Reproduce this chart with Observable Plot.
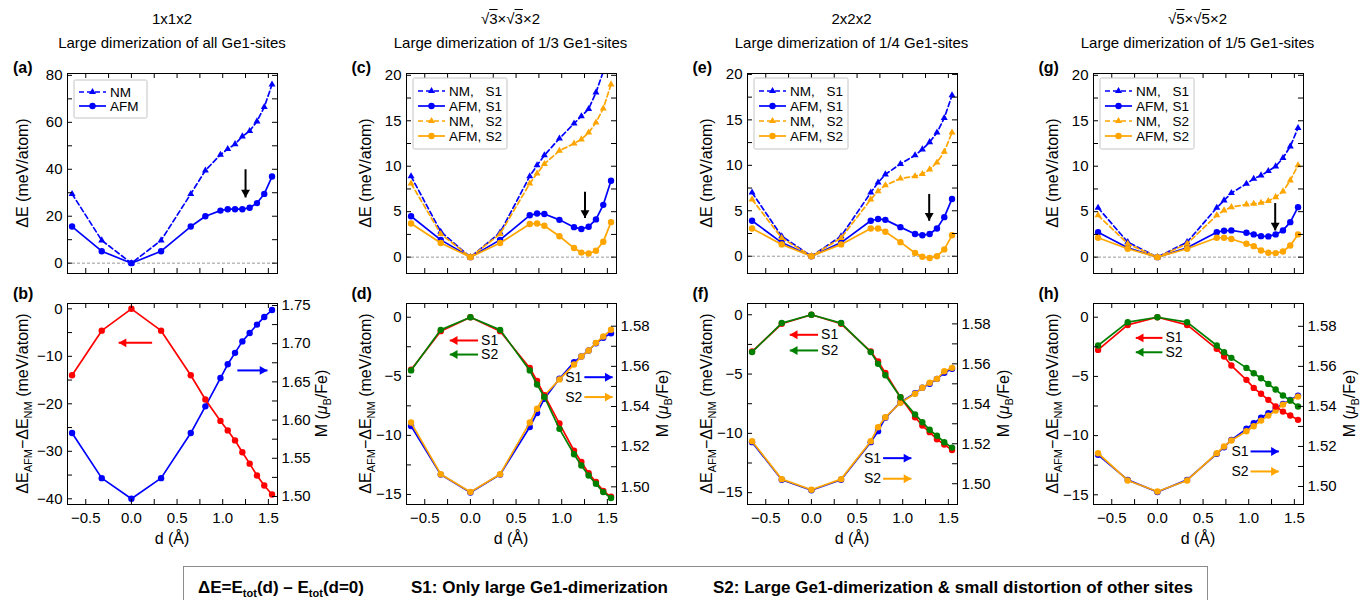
<!DOCTYPE html>
<html>
<head>
<meta charset="utf-8">
<script src="https://cdn.jsdelivr.net/npm/d3@7"></script>
<script src="https://cdn.jsdelivr.net/npm/@observablehq/plot@0.6"></script>
<style>
  html, body { margin: 0; padding: 0; background: #fff; }
  #page { position: relative; width: 1370px; height: 600px; overflow: hidden;
          font-family: "Liberation Sans", Arial, Helvetica, sans-serif; color: #000; }
  .ttl { position: absolute; width: 340px; text-align: center; font-size: 15px; line-height: 17px; white-space: nowrap; }
  .plab { position: absolute; font-size: 16px; font-weight: bold; line-height: 16px; }
  .ov { text-decoration: overline; }
  #caption { position: absolute; left: 183px; top: 566px; width: 1025px; height: 60px;
             border: 1px solid #8c8c8c; box-sizing: border-box; }
  #caption span { position: absolute; top: 11px; font-size: 17px; font-weight: bold; white-space: nowrap; }
  #caption sub { font-size: 11px; }
</style>
</head>
<body>
<div id="page"></div>
<script>
// ---------- shared displacement axis ----------
const xDomain = [-0.7, 1.6];
const xTickLabels = [-0.5, 0, 0.5, 1, 1.5];
const xTicks = [-0.5, -0.25, 0, 0.25, 0.5, 0.75, 1, 1.25, 1.5];

// Ge1 displacement d (Å) sampled in each supercell
const dAB = [-0.65, -0.325, 0, 0.325, 0.65, 0.81, 0.975, 1.055, 1.135, 1.215, 1.295, 1.375, 1.455, 1.54];
const dCF = [-0.65, -0.325, 0, 0.325, 0.65, 0.73, 0.81, 0.975, 1.135, 1.215, 1.295, 1.375, 1.455, 1.54];
const dGH = [-0.65, -0.325, 0, 0.325, 0.65, 0.73, 0.81, 0.975, 1.055, 1.135, 1.215, 1.295, 1.375, 1.455, 1.54];

// (a) 1x1x2 : ΔE (meV/atom)
const nmA  = [29.5, 9.7, 0, 9.7, 29.5, 39.5, 46.2, 48.6, 50.7, 54.0, 56.3, 60.4, 66.5, 76.1];
const afmA = [15.6, 5.1, 0, 5.1, 15.6, 20.0, 22.4, 23.0, 23.0, 23.0, 23.6, 25.6, 29.5, 36.9];
// (b) ΔE_AFM − ΔE_NM and Fe moment
const diffB = [-14.0, -4.6, 0, -4.6, -14.0, -19.1, -23.6, -25.6, -27.7, -30.2, -32.6, -35.1, -37.2, -39.1];
const magB  = [1.583, 1.524, 1.497, 1.524, 1.583, 1.618, 1.655, 1.673, 1.688, 1.703, 1.714, 1.725, 1.735, 1.744];

// (c) √3×√3×2
const nmS1C  = [8.9, 2.8, 0, 2.7, 8.9, 10.1, 11.2, 13.05, 14.7, 15.5, 16.3, 18.1, 20.4, 23.5];
const afmS1C = [4.5, 1.9, 0, 1.9, 4.6, 4.8, 4.75, 4.1, 3.3, 3.1, 3.35, 4.15, 5.75, 8.4];
const nmS2C  = [8.1, 2.55, 0, 2.55, 8.1, 9.2, 10.25, 11.7, 12.5, 12.95, 13.7, 14.8, 16.35, 19.0];
const afmS2C = [3.7, 1.55, 0, 1.55, 3.65, 3.7, 3.45, 2.3, 1.0, 0.5, 0.4, 0.7, 1.7, 3.85];
// (d)
const diffS1D = [-4.45, -1.18, 0, -1.18, -4.3, -5.4, -6.6, -9.0, -11.3, -12.25, -13.2, -13.95, -14.7, -15.2];
const diffS2D = [-4.5, -1.07, 0, -1.07, -4.5, -5.7, -6.75, -9.45, -11.6, -12.55, -13.4, -14.1, -14.8, -15.3];
const magS1D  = [1.5303, 1.5061, 1.4972, 1.5061, 1.5298, 1.5368, 1.5439, 1.5538, 1.5621, 1.5649, 1.5679, 1.5715, 1.5742, 1.5765];
const magS2D  = [1.5320, 1.5063, 1.4974, 1.5063, 1.5320, 1.5389, 1.5455, 1.5535, 1.5609, 1.5649, 1.5679, 1.5717, 1.5749, 1.5782];

// (e) 2x2x2
const nmS1E  = [7.0, 2.2, 0, 2.2, 7.0, 8.1, 9.0, 10.15, 11.1, 11.75, 12.55, 13.6, 15.2, 17.7];
const afmS1E = [3.9, 1.5, 0, 1.5, 3.9, 4.1, 4.0, 3.2, 2.45, 2.3, 2.45, 3.05, 4.3, 6.3];
const nmS2E  = [6.25, 2.0, 0, 2.0, 6.25, 7.15, 7.8, 8.55, 8.8, 9.05, 9.55, 10.3, 11.5, 13.6];
const afmS2E = [3.05, 1.3, 0, 1.3, 3.05, 3.05, 2.7, 1.55, 0.35, -0.05, -0.2, 0.0, 0.75, 2.3];
// (f)
const diffS1F = [-3.1, -0.76, 0, -0.76, -3.1, -3.94, -4.9, -6.95, -8.64, -9.34, -9.9, -10.5, -10.95, -11.4];
const diffS2F = [-3.15, -0.7, 0, -0.7, -3.15, -4.14, -5.1, -6.95, -8.4, -9.06, -9.7, -10.2, -10.75, -11.2];
const magS1F  = [1.5208, 1.502, 1.4967, 1.502, 1.5208, 1.5263, 1.533, 1.5408, 1.5453, 1.548, 1.55, 1.5525, 1.5555, 1.5575];
const magS2F  = [1.5213, 1.5023, 1.497, 1.5023, 1.5213, 1.5283, 1.5333, 1.5405, 1.545, 1.548, 1.5505, 1.5525, 1.5563, 1.558];

// (g) √5×√5×2
const nmS1G  = [5.43, 1.65, 0, 1.65, 5.43, 6.24, 7.05, 8.07, 8.62, 8.99, 9.47, 9.98, 10.9, 12.18, 14.2];
const afmS1G = [2.75, 1.03, 0, 1.03, 2.75, 2.9, 2.94, 2.68, 2.5, 2.31, 2.28, 2.5, 2.94, 3.85, 5.5];
const nmS2G  = [4.6, 1.47, 0, 1.47, 4.6, 5.14, 5.5, 5.8, 5.87, 5.98, 6.17, 6.6, 7.23, 8.44, 10.1];
const afmS2G = [2.13, 0.92, 0, 0.92, 2.13, 2.13, 2.0, 1.47, 1.21, 0.73, 0.48, 0.44, 0.62, 1.28, 2.5];
// (h)
const diffS1H = [-2.76, -0.65, 0, -0.65, -2.67, -3.32, -4.08, -5.29, -5.97, -6.47, -6.98, -7.54, -7.97, -8.3, -8.67];
const diffS2H = [-2.39, -0.42, 0, -0.42, -2.39, -2.96, -3.43, -4.28, -4.73, -5.15, -5.63, -6.11, -6.61, -7.04, -7.54];
const magS1H  = [1.5158, 1.5033, 1.4972, 1.5033, 1.5163, 1.5196, 1.5233, 1.5288, 1.5316, 1.5343, 1.5366, 1.5387, 1.5412, 1.5432, 1.5454];
const magS2H  = [1.5166, 1.503, 1.4975, 1.503, 1.5166, 1.52, 1.523, 1.5276, 1.5301, 1.5329, 1.5354, 1.5379, 1.5409, 1.5429, 1.5449];

// black arrows pointing at the AFM minimum (top row): d, start ΔE, end ΔE
const minArrowD    = [1.25, 1.255, 1.29, 1.29];
const minArrowFrom = [40, 7.2, 6.85, 5.95];
const minArrowTo   = [28, 4.3, 3.9, 2.94];

// axis-indicating arrows (bottom row): tail d, tip d, value, label
const leftArrowTail  = [0.227, 0.084, 0.073, 0.055];
const leftArrowTip   = [-0.14, -0.226, -0.237, -0.237];
const leftArrowS1    = [-7.16, -1.97, -1.69, -1.745];
const leftArrowS2    = [null, -3.16, -3.01, -2.96];
const rightArrowTail = [1.16, 1.248, 0.785, 1.02];
const rightArrowTip  = [1.49, 1.558, 1.095, 1.33];
const rightArrowS1   = [1.665, 1.5546, 1.5128, 1.5175];
const rightArrowS2   = [null, 1.5447, 1.5025, 1.5075];

// tick arrays
const yTicksA = [0, 10, 20, 30, 40, 50, 60, 70, 80];
const yLabelsA = [0, 20, 40, 60, 80];
const yTicksC = [0, 2.5, 5, 7.5, 10, 12.5, 15, 17.5, 20];
const yLabelsC = [0, 5, 10, 15, 20];
const leftTicksB = [0, -5, -10, -15, -20, -25, -30, -35, -40];
const leftLabelsB = [0, -10, -20, -30, -40];
const rightTicksB = [1.5, 1.525, 1.55, 1.575, 1.6, 1.625, 1.65, 1.675, 1.7, 1.725, 1.75];
const rightLabelsB = [1.5, 1.55, 1.6, 1.65, 1.7, 1.75];
const leftTicksD = [0, -2.5, -5, -7.5, -10, -12.5, -15];
const leftLabelsD = [0, -5, -10, -15];
const rightTicksD = [1.5, 1.51, 1.52, 1.53, 1.54, 1.55, 1.56, 1.57, 1.58];
const rightLabelsD = [1.5, 1.52, 1.54, 1.56, 1.58];

// headings
const cellNames = ["1x1x2", "√<span class='ov'>3</span>×√<span class='ov'>3</span>×2", "2x2x2", "√<span class='ov'>5</span>×√<span class='ov'>5</span>×2"];
const cellSubtitles = ["Large dimerization of all Ge1-sites", "Large dimerization of 1/3 Ge1-sites",
                       "Large dimerization of 1/4 Ge1-sites", "Large dimerization of 1/5 Ge1-sites"];
const panelLetters = [["(a)", "(b)"], ["(c)", "(d)"], ["(e)", "(f)"], ["(g)", "(h)"]];

const BLUE = "#0000ff", ORANGE = "#ffa500", RED = "#ff0000", GREEN = "#008000";

// ---------- layout ----------
const COL_LEFT = [67, 405.5, 746.5, 1092.5];
const TOP_Y = 73, BOT_Y = 303;
const FW = 210, FH_TOP = 200, FH_BOT = 201;
const ML = 64, MR = 64, MT = 12, MB_TOP = 12, MB_BOT = 52;
const TICK = 5;
const LEG_FONT = 13.5;
const FONT = "'Liberation Sans', Arial, Helvetica, sans-serif";
const plotStyle = {fontFamily: FONT, fontSize: "15px", background: "none", overflow: "visible", color: "#000"};
const tri = Math.sqrt(Math.PI / (3 * Math.sqrt(3)));   // triangle tip distance per unit r
const HEAD_R = 3.3;

const page = document.getElementById("page");
function place(node, x, y) {
  node.style.position = "absolute";
  node.style.left = x + "px";
  node.style.top = y + "px";
  page.appendChild(node);
}

function inwardTicks(xs, yl, yr, fh) {
  return [
    Plot.tickX(xs, {x: d => d, insetTop: fh - TICK, stroke: "#000"}),
    Plot.tickX(xs, {x: d => d, insetBottom: fh - TICK, stroke: "#000"}),
    Plot.tickY(yl, {y: d => d, insetRight: FW - TICK, stroke: "#000"}),
    Plot.tickY(yr, {y: d => d, insetLeft: FW - TICK, stroke: "#000"})
  ];
}

function seriesMarks(xs, ys, color, dashed, symbol) {
  const rows = xs.map((d, i) => ({d, v: ys[i]}));
  const opts = {x: "d", y: "v", stroke: color, strokeWidth: 1.7, clip: true};
  if (dashed) opts.strokeDasharray = "5,3";
  return [
    Plot.line(rows, opts),
    Plot.dot(rows, {x: "d", y: "v", fill: color, r: symbol === "triangle" ? 2.6 : 3.2, symbol, clip: true})
  ];
}

function rotatedTitle(parts, side, offset) {
  return (index, scales, values, dims) => {
    const cx = side === "left" ? dims.marginLeft - offset : dims.width - dims.marginRight + offset;
    const cy = dims.marginTop + (dims.height - dims.marginTop - dims.marginBottom) / 2;
    const t = d3.create("svg:text")
      .attr("transform", `translate(${cx},${cy}) rotate(-90)`)
      .attr("text-anchor", "middle").attr("dy", "0.35em")
      .attr("font-size", 16).attr("fill", "#000");
    let shifted = false;
    for (const p of parts) {
      const s = t.append("tspan");
      if (typeof p === "string") {
        s.text(p);
        if (shifted) { s.attr("dy", -4); shifted = false; }
      } else if (p.sub) {
        s.text(p.sub).attr("font-size", 11).attr("dy", 4); shifted = true;
      } else if (p.it) {
        s.text(p.it).attr("font-style", "italic");
        if (shifted) { s.attr("dy", -4); shifted = false; }
      }
    }
    return t.node();
  };
}

function xTitle() {
  return (index, scales, values, dims) =>
    d3.create("svg:text")
      .attr("x", dims.marginLeft + (dims.width - dims.marginLeft - dims.marginRight) / 2)
      .attr("y", dims.height - dims.marginBottom + 40)
      .attr("text-anchor", "middle").attr("font-size", 16).attr("fill", "#000")
      .text("d (Å)").node();
}

function legendMark(entries, w, h, top, gap, tagX) {
  return (index, scales, values, dims) => {
    const g = d3.create("svg:g").attr("transform", `translate(${dims.marginLeft + 7},${dims.marginTop + top})`)
      .attr("text-anchor", "start");
    g.append("rect").attr("width", w).attr("height", h).attr("fill", "#fff")
      .attr("stroke", "#c4c4c4").attr("stroke-width", 1).attr("rx", 1.5);
    const y0 = (h - gap * (entries.length - 1)) / 2;
    entries.forEach((e, j) => {
      const y = y0 + j * gap;
      const ln = g.append("line").attr("x1", 5).attr("x2", 32).attr("y1", y).attr("y2", y)
        .attr("stroke", e.color).attr("stroke-width", 1.7);
      if (e.dashed) ln.attr("stroke-dasharray", "5,3");
      const r = e.symbol === "triangle" ? 2.6 : 3.2;
      g.append("path").attr("transform", `translate(18.5,${y})`)
        .attr("d", d3.symbol(e.symbol === "triangle" ? d3.symbolTriangle : d3.symbolCircle, r * r * Math.PI)())
        .attr("fill", e.color);
      g.append("text").attr("x", 36).attr("y", y).attr("dy", "0.35em").attr("font-size", LEG_FONT)
        .attr("text-anchor", "start").text(e.label);
      if (e.tag) g.append("text").attr("x", tagX).attr("y", y).attr("dy", "0.35em").attr("font-size", LEG_FONT)
        .attr("text-anchor", "start").text(e.tag);
    });
    return g.node();
  };
}

function downArrow(col) {
  const rows = [{d: minArrowD[col], y1: minArrowFrom[col], y2: minArrowTo[col]}];
  return [
    Plot.link(rows, {x1: "d", x2: "d", y1: "y1", y2: "y2", stroke: "#000", strokeWidth: 2}),
    Plot.dot(rows, {x: "d", y: "y2", symbol: "triangle", rotate: 180, r: HEAD_R, fill: "#000", dy: -2 * tri * HEAD_R})
  ];
}

function hArrow(x1, x2, y, color, label) {
  const rows = [{x1, x2, y, label}];
  const left = x2 < x1;
  const marks = [
    Plot.link(rows, {x1: "x1", x2: "x2", y1: "y", y2: "y", stroke: color, strokeWidth: 2}),
    Plot.dot(rows, {x: "x2", y: "y", symbol: "triangle", rotate: left ? -90 : 90, r: HEAD_R, fill: color,
                    dx: (left ? 1 : -1) * 2 * tri * HEAD_R})
  ];
  if (label) marks.push(Plot.text(rows, {x: "x1", y: "y", text: "label", fill: "#000", fontSize: 14,
                                         textAnchor: left ? "start" : "end", dx: left ? 3 : -2}));
  return marks;
}

function topPanel(p) {
  return Plot.plot({
    width: ML + FW + MR, height: MT + FH_TOP + MB_TOP,
    marginLeft: ML, marginRight: MR, marginTop: MT, marginBottom: MB_TOP,
    style: plotStyle,
    x: {domain: xDomain, axis: null},
    y: {domain: p.yDomain, axis: null},
    marks: [
      Plot.ruleY([0], {stroke: "#9a9a9a", strokeDasharray: "3,2", strokeWidth: 1}),
      ...p.series.flatMap(s => seriesMarks(s.xs, s.ys, s.color, s.dashed, s.symbol)),
      ...downArrow(p.col),
      ...inwardTicks(xTicks, p.yTicks, p.yTicks, FH_TOP),
      Plot.axisY(p.yLabels, {tickSize: 0, tickPadding: 5, label: null, tickFormat: d3.format("d")}),
      Plot.frame({stroke: "#000", strokeWidth: 1}),
      p.legend,
      rotatedTitle(["ΔE (meV/atom)"], "left", p.titleOffset)
    ]
  });
}

function bottomPanel(p) {
  const L = p.leftDomain, R = p.rightDomain;
  const k = (L[1] - L[0]) / (R[1] - R[0]);
  const toLeft = m => L[0] + (m - R[0]) * k;
  const fromLeft = v => R[0] + (v - L[0]) / k;
  const fmtR = d3.format(".2f");
  const c = p.col;
  const marks = [
    ...p.mag.flatMap(s => seriesMarks(s.xs, s.ys.map(toLeft), s.color, false, "circle")),
    ...p.diff.flatMap(s => seriesMarks(s.xs, s.ys, s.color, false, "circle")),
    ...hArrow(leftArrowTail[c], leftArrowTip[c], leftArrowS1[c], RED, c ? "S1" : null),
    ...hArrow(rightArrowTail[c], rightArrowTip[c], toLeft(rightArrowS1[c]), BLUE, c ? "S1" : null)
  ];
  if (leftArrowS2[c] != null) marks.push(...hArrow(leftArrowTail[c], leftArrowTip[c], leftArrowS2[c], GREEN, "S2"));
  if (rightArrowS2[c] != null) marks.push(...hArrow(rightArrowTail[c], rightArrowTip[c], toLeft(rightArrowS2[c]), ORANGE, "S2"));
  marks.push(
    ...inwardTicks(xTicks, p.leftTicks, p.rightTicks.map(toLeft), FH_BOT),
    Plot.axisX(xTickLabels, {tickSize: 0, tickPadding: 8, label: null, tickFormat: d3.format(".1f")}),
    Plot.axisY(p.leftLabels, {tickSize: 0, tickPadding: 5, label: null, tickFormat: d3.format("d")}),
    Plot.axisY(p.rightLabels.map(toLeft), {anchor: "right", tickSize: 0, tickPadding: 4, label: null,
                                          tickFormat: v => fmtR(fromLeft(v))}),
    Plot.frame({stroke: "#000", strokeWidth: 1}),
    rotatedTitle(["ΔE", {sub: "AFM"}, "−ΔE", {sub: "NM"}, " (meV/atom)"], "left", p.titleOffset),
    rotatedTitle(["M (", {it: "μ"}, {sub: "B"}, "/Fe)"], "right", p.rightOffset),
    xTitle()
  );
  return Plot.plot({
    width: ML + FW + MR, height: MT + FH_BOT + MB_BOT,
    marginLeft: ML, marginRight: MR, marginTop: MT, marginBottom: MB_BOT,
    style: plotStyle,
    x: {domain: xDomain, axis: null},
    y: {domain: L, axis: null},
    marks
  });
}

const legend2 = legendMark([
  {label: "NM", color: BLUE, dashed: true, symbol: "triangle"},
  {label: "AFM", color: BLUE, dashed: false, symbol: "circle"}
], 73, 38, 7, 14, 0);
const legend4 = () => legendMark([
  {label: "NM,", tag: "S1", color: BLUE, dashed: true, symbol: "triangle"},
  {label: "AFM,", tag: "S1", color: BLUE, dashed: false, symbol: "circle"},
  {label: "NM,", tag: "S2", color: ORANGE, dashed: true, symbol: "triangle"},
  {label: "AFM,", tag: "S2", color: ORANGE, dashed: false, symbol: "circle"}
], 94, 71, 5, 15, 72.5);

const fourSeries = (xs, nm1, afm1, nm2, afm2) => [
  {xs, ys: nm1, color: BLUE, dashed: true, symbol: "triangle"},
  {xs, ys: afm1, color: BLUE, dashed: false, symbol: "circle"},
  {xs, ys: nm2, color: ORANGE, dashed: true, symbol: "triangle"},
  {xs, ys: afm2, color: ORANGE, dashed: false, symbol: "circle"}
];

const tops = [
  topPanel({col: 0, yDomain: [-4.4, 80.8], yTicks: yTicksA, yLabels: yLabelsA, legend: legend2, titleOffset: 44.5,
            series: [{xs: dAB, ys: nmA, color: BLUE, dashed: true, symbol: "triangle"},
                     {xs: dAB, ys: afmA, color: BLUE, dashed: false, symbol: "circle"}]}),
  topPanel({col: 1, yDomain: [-1.8, 20.2], yTicks: yTicksC, yLabels: yLabelsC, legend: legend4(), titleOffset: 40.5,
            series: fourSeries(dCF, nmS1C, afmS1C, nmS2C, afmS2C)}),
  topPanel({col: 2, yDomain: [-1.9, 20.1], yTicks: yTicksC, yLabels: yLabelsC, legend: legend4(), titleOffset: 40.5,
            series: fourSeries(dCF, nmS1E, afmS1E, nmS2E, afmS2E)}),
  topPanel({col: 3, yDomain: [-1.8, 20.2], yTicks: yTicksC, yLabels: yLabelsC, legend: legend4(), titleOffset: 40.5,
            series: fourSeries(dGH, nmS1G, afmS1G, nmS2G, afmS2G)})
];

const pair = (xs, a, b, ca, cb) => [{xs, ys: a, color: ca}, {xs, ys: b, color: cb}];
const bottoms = [
  bottomPanel({col: 0, leftDomain: [-41.2, 1.12], rightDomain: [1.4895, 1.7526],
               leftTicks: leftTicksB, leftLabels: leftLabelsB, rightTicks: rightTicksB, rightLabels: rightLabelsB,
               titleOffset: 44.5, rightOffset: 44,
               mag: [{xs: dAB, ys: magB, color: BLUE}], diff: [{xs: dAB, ys: diffB, color: RED}]}),
  bottomPanel({col: 1, leftDomain: [-15.85, 1.16], rightDomain: [1.4912, 1.5913],
               leftTicks: leftTicksD, leftLabels: leftLabelsD, rightTicks: rightTicksD, rightLabels: rightLabelsD,
               titleOffset: 40.5, rightOffset: 46.5,
               mag: pair(dCF, magS1D, magS2D, BLUE, ORANGE), diff: pair(dCF, diffS1D, diffS2D, RED, GREEN)}),
  bottomPanel({col: 2, leftDomain: [-16.0, 0.95], rightDomain: [1.4896, 1.5902],
               leftTicks: leftTicksD, leftLabels: leftLabelsD, rightTicks: rightTicksD, rightLabels: rightLabelsD,
               titleOffset: 40.5, rightOffset: 46.5,
               mag: pair(dCF, magS1F, magS2F, BLUE, ORANGE), diff: pair(dCF, diffS1F, diffS2F, RED, GREEN)}),
  bottomPanel({col: 3, leftDomain: [-15.82, 1.16], rightDomain: [1.491, 1.5914],
               leftTicks: leftTicksD, leftLabels: leftLabelsD, rightTicks: rightTicksD, rightLabels: rightLabelsD,
               titleOffset: 40.5, rightOffset: 46.5,
               mag: pair(dGH, magS1H, magS2H, BLUE, ORANGE), diff: pair(dGH, diffS1H, diffS2H, RED, GREEN)})
];

COL_LEFT.forEach((x0, i) => {
  place(tops[i], x0 - ML, TOP_Y - MT);
  place(bottoms[i], x0 - ML, BOT_Y - MT);
  const cx = x0 + FW / 2;
  const t1 = document.createElement("div");
  t1.className = "ttl"; t1.innerHTML = cellNames[i];
  place(t1, cx - 170, 9.5);
  const t2 = document.createElement("div");
  t2.className = "ttl"; t2.textContent = cellSubtitles[i];
  place(t2, cx - 170, 33.5);
  const la = document.createElement("div");
  la.className = "plab"; la.textContent = panelLetters[i][0];
  place(la, x0 - 54, 60);
  const lb = document.createElement("div");
  lb.className = "plab"; lb.textContent = panelLetters[i][1];
  place(lb, x0 - 54, 285.5);
});

// definitions box under the panels
const cap = document.createElement("div");
cap.id = "caption";
cap.innerHTML =
  "<span style='left:14px'>ΔE=E<sub>tot</sub>(d) – E<sub>tot</sub>(d=0)</span>" +
  "<span style='left:227px'>S1: Only large Ge1-dimerization</span>" +
  "<span style='left:529px'>S2: Large Ge1-dimerization &amp; small distortion of other sites</span>";
page.appendChild(cap);
</script>
</body>
</html>
